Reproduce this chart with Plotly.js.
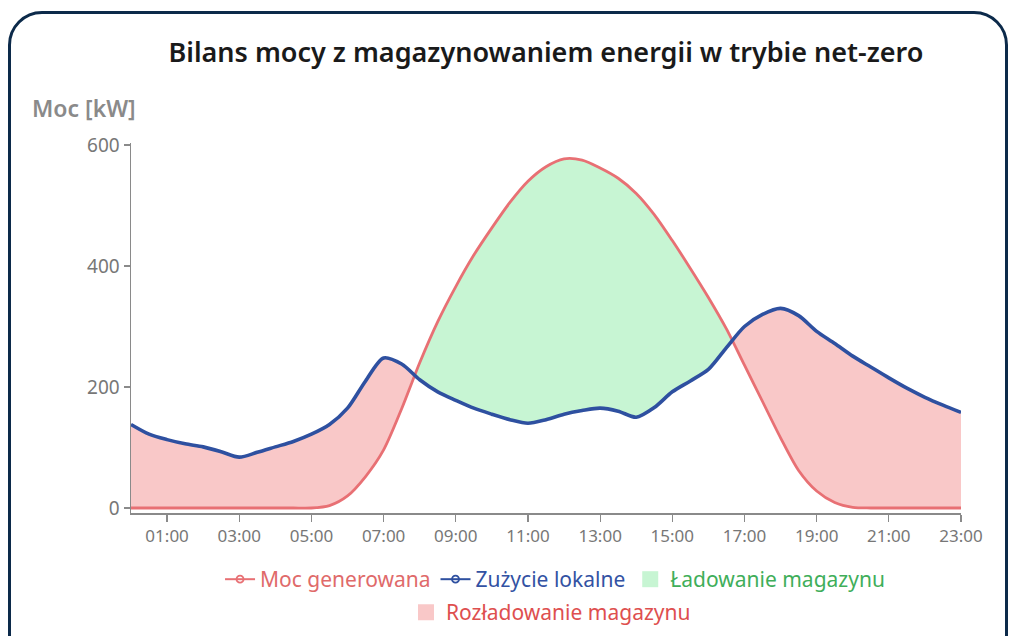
<!DOCTYPE html>
<html>
<head>
<meta charset="utf-8">
<script src="https://cdn.plot.ly/plotly-3.0.1.min.js"></script>
<style>
  html, body { margin: 0; padding: 0; width: 1011px; height: 636px; overflow: hidden; background: #ffffff; }
  #frame { position: absolute; left: 8px; top: 11px; width: 1000px; height: 700px; border: 3px solid #0c2a4a; border-radius: 34px; box-sizing: border-box; }
  #chart { position: absolute; left: 0; top: 0; width: 1011px; height: 636px; }
</style>
</head>
<body>
<div id="frame"></div>
<div id="chart"></div>
<script>
// Hours of the day (x values)
const hours = [0,0.5,1,1.5,2,2.5,3,3.5,4,4.5,5,5.5,6,6.5,7,7.5,8,8.5,9,9.5,10,10.5,11,11.5,12,12.5,13,13.5,14,14.5,15,15.5,16,16.5,17,17.5,18,18.5,19,19.5,20,20.5,21,21.5,22,22.5,23];
// Moc generowana [kW]
const generation = [0,0,0,0,0,0,0,0,0,0,0,4,20,52,96,164,240,308,366,418,463,505,540,564,577,575,562,545,520,485,442,396,348,296,236,176,116,62,28,9,1,0,0,0,0,0,0];
// Zużycie lokalne [kW]
const consumption = [138,122,113,106,101,93,84,92,101,110,122,138,165,210,248,238,212,192,178,165,155,146,140,146,155,161,165,160,150,166,192,210,229,265,300,320,330,318,292,272,251,233,215,198,183,170,158];
// Axis ticks
const tickHours = [1,3,5,7,9,11,13,15,17,19,21,23];
const tickLabels = ["01:00","03:00","05:00","07:00","09:00","11:00","13:00","15:00","17:00","19:00","21:00","23:00"];
const yTicks = [0,200,400,600];
// Legend labels
const seriesNames = ["Moc generowana", "Zużycie lokalne", "Ładowanie magazynu", "Rozładowanie magazynu"];

// Build fill boundaries: insert crossing points of the two curves
const fx = [], fg = [], fc = [];
for (let i = 0; i < hours.length; i++) {
  fx.push(hours[i]); fg.push(generation[i]); fc.push(consumption[i]);
  if (i < hours.length - 1) {
    const d0 = generation[i] - consumption[i];
    const d1 = generation[i+1] - consumption[i+1];
    if (d0 * d1 < 0) {
      const t = d0 / (d0 - d1);
      const xc = hours[i] + t * (hours[i+1] - hours[i]);
      const yc = generation[i] + t * (generation[i+1] - generation[i]);
      fx.push(xc); fg.push(yc); fc.push(yc);
    }
  }
}
const lower = fg.map((g, i) => Math.min(g, fc[i]));

const RED = 'rgb(232,112,116)';
const BLUE = 'rgb(46,80,160)';
const PINK = 'rgb(249,200,200)';
const GREEN = 'rgb(199,245,211)';
const FONT = 'Noto Sans, Open Sans, sans-serif';
const noLine = {width: 0, color: 'rgba(0,0,0,0)', shape: 'spline', smoothing: 0.8};

const traces = [
  { x: fx, y: lower, mode: 'lines', line: noLine, showlegend: false, hoverinfo: 'skip' },
  { x: fx, y: fc, mode: 'lines', line: noLine, fill: 'tonexty', fillcolor: PINK, showlegend: false, hoverinfo: 'skip' },
  { x: fx, y: lower, mode: 'lines', line: noLine, showlegend: false, hoverinfo: 'skip' },
  { x: fx, y: fg, mode: 'lines', line: noLine, fill: 'tonexty', fillcolor: GREEN, showlegend: false, hoverinfo: 'skip' },
  { x: hours, y: generation, mode: 'lines', line: {color: RED, width: 2.8, shape: 'spline', smoothing: 0.8}, showlegend: false },
  { x: hours, y: consumption, mode: 'lines', line: {color: BLUE, width: 3.6, shape: 'spline', smoothing: 0.8}, showlegend: false },
  // legend entries
  { x: [null], y: [null], mode: 'lines+markers', line: {color: RED, width: 2}, marker: {symbol: 'circle-open', size: 7, color: RED, line: {width: 1.8}},
    name: '<span style="color:#e06a6a">' + seriesNames[0] + '</span>', legend: 'legend' },
  { x: [null], y: [null], mode: 'lines+markers', line: {color: BLUE, width: 2}, marker: {symbol: 'circle-open', size: 7, color: BLUE, line: {width: 1.8}},
    name: '<span style="color:#3352a3">' + seriesNames[1] + '</span>', legend: 'legend' },
  { x: [null], y: [null], mode: 'markers', marker: {symbol: 'square', size: 20, color: GREEN},
    name: '<span style="color:#3fae5a">' + seriesNames[2] + '</span>', legend: 'legend' },
  { x: [null], y: [null], mode: 'markers', marker: {symbol: 'square', size: 20, color: PINK},
    name: '<span style="color:#de4f4f">' + seriesNames[3] + '</span>', legend: 'legend2' }
];

const layout = {
  width: 1011, height: 636,
  margin: {l: 131, r: 50, t: 143, b: 123, autoexpand: false},
  paper_bgcolor: 'rgba(0,0,0,0)', plot_bgcolor: 'rgba(0,0,0,0)',
  font: {family: FONT, color: '#777'},
  title: {text: 'Bilans mocy z magazynowaniem energii w trybie net-zero', x: 0.54, xanchor: 'center', y: 0.917, yanchor: 'middle',
          font: {family: FONT, size: 27, color: '#1a1a1a', weight: 600}},
  xaxis: {range: [0, 23], tickvals: tickHours, ticktext: tickLabels, showgrid: false, zeroline: false,
          showline: true, linecolor: '#8a8a8a', linewidth: 1.5, ticks: 'outside', ticklen: 7, tickcolor: '#8a8a8a', tickwidth: 1.2,
          tickfont: {size: 17, color: '#777'}, automargin: false},
  yaxis: {range: [-8.3, 603.3], tickvals: yTicks, showgrid: false, zeroline: false,
          showline: true, linecolor: '#8a8a8a', linewidth: 1.5, ticks: 'outside', ticklen: 6, tickcolor: '#8a8a8a', tickwidth: 1.2,
          tickfont: {size: 19, color: '#777'}, automargin: false},
  showlegend: true,
  legend: {orientation: 'h', xref: 'container', yref: 'container', x: 0.549, xanchor: 'center', y: 0.121, yanchor: 'top',
           font: {family: FONT, size: 21}, traceorder: 'normal', bgcolor: 'rgba(0,0,0,0)'},
  legend2: {orientation: 'h', xref: 'container', yref: 'container', x: 0.545, xanchor: 'center', y: 0.069, yanchor: 'top',
           font: {family: FONT, size: 21}, traceorder: 'normal', bgcolor: 'rgba(0,0,0,0)'},
  annotations: [{text: 'Moc [kW]', xref: 'paper', yref: 'paper', x: -0.122, y: 1.095, xanchor: 'left', yanchor: 'middle',
                 showarrow: false, font: {family: FONT, size: 23, color: '#8a8a8a', weight: 600}}]
};

Plotly.newPlot('chart', traces, layout, {displayModeBar: false, staticPlot: true});
</script>
</body>
</html>
